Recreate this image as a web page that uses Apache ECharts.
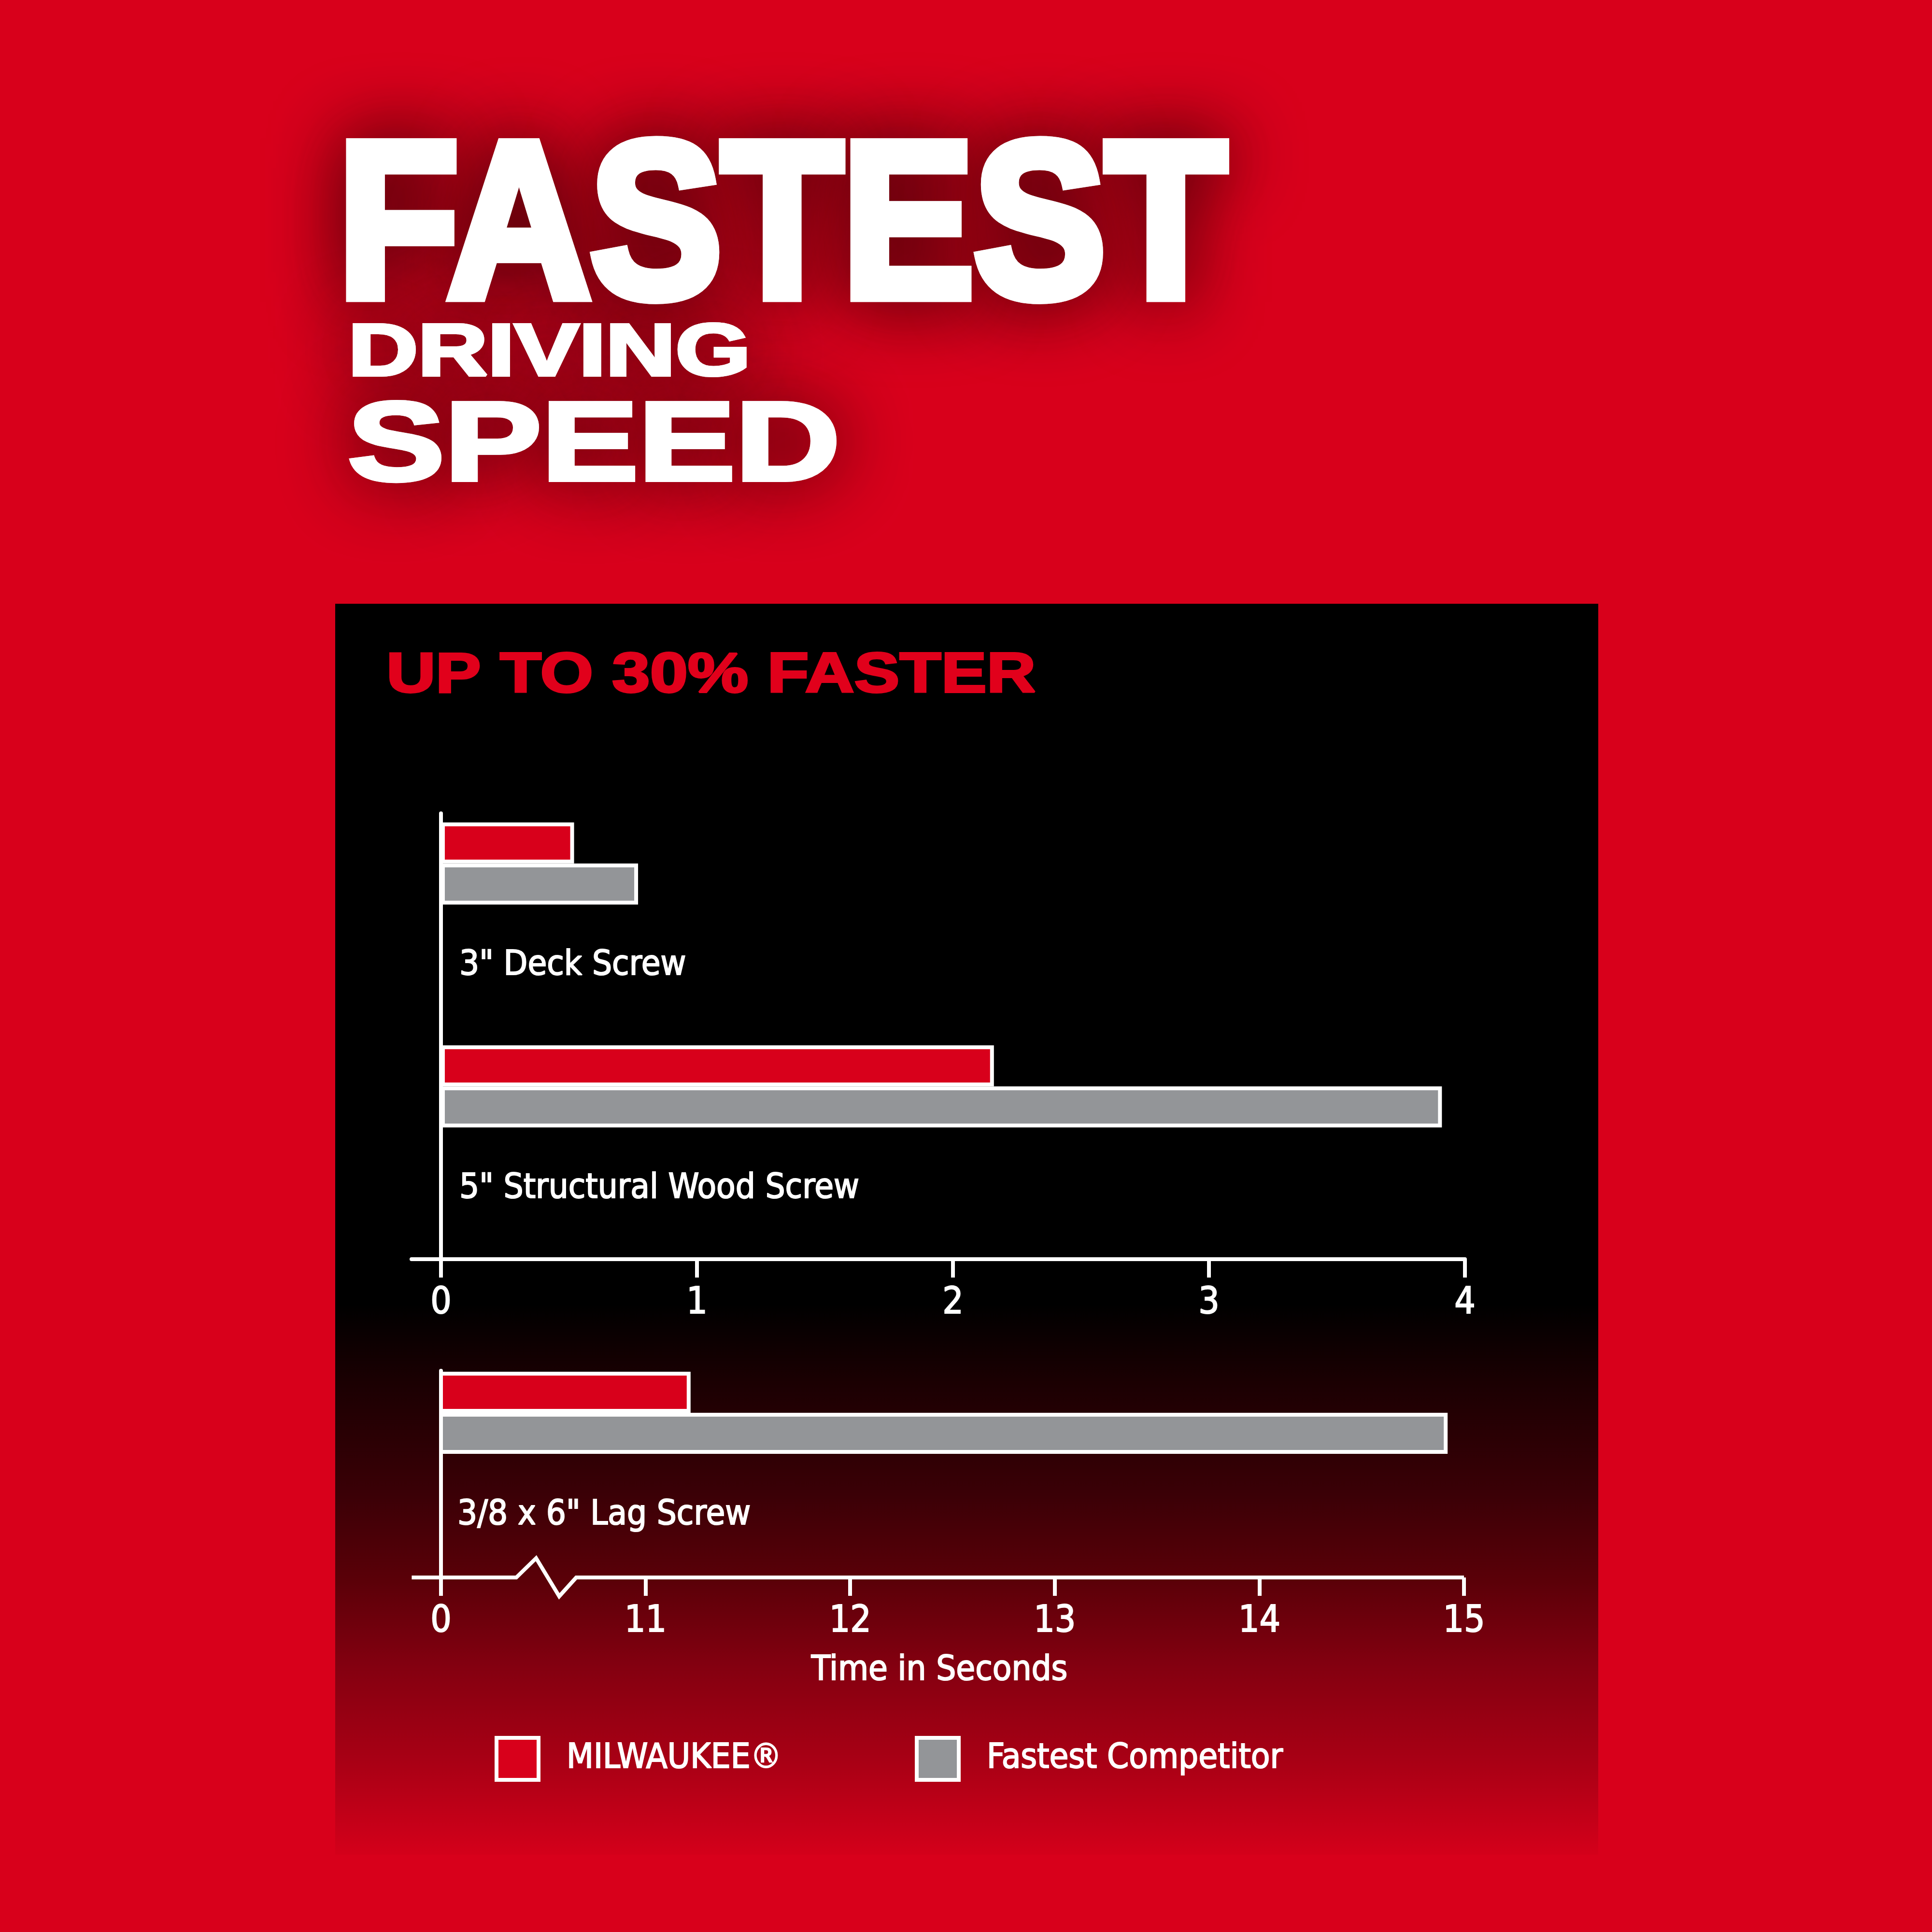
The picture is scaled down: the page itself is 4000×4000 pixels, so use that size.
<!DOCTYPE html>
<html>
<head>
<meta charset="utf-8">
<script src="https://cdn.jsdelivr.net/npm/echarts@6/dist/echarts.min.js"></script>
<style>
html,body{margin:0;padding:0;background:#d8001b;}
#chart{width:4000px;height:4000px;}
</style>
</head>
<body>
<div id="chart"></div>
<script>
// ---- data ----
const topCategories = ['3" Deck Screw', '5" Structural Wood Screw'];
const milwaukeeTop = [0.52, 2.16];
const competitorTop = [0.77, 3.91];
const topTicks = [0, 1, 2, 3, 4];

const lagCategories = ['3/8 x 6" Lag Screw'];
const milwaukeeLag = [11.22];
const competitorLag = [14.92];
const lagTicks = [10, 11, 12, 13, 14, 15];
const lagTickLabels = ['0', '11', '12', '13', '14', '15'];

const seriesNames = ['MILWAUKEE®', 'Fastest Competitor'];
const titleLines = ['FASTEST', 'DRIVING', 'SPEED'];
const subtitle = 'UP TO 30% FASTER';
const axisName = 'Time in Seconds';

// ---- style ----
const RED = '#d8001b';
const GRAY = '#939598';
const WHITE = '#ffffff';
const F = "'Liberation Sans Narrow', 'Arial Narrow', 'DejaVu Sans Condensed', sans-serif";
const TITLE_F = "'Liberation Sans', Arial, sans-serif";
const TXT = 72;

const chart = echarts.init(document.getElementById('chart'), null, {renderer: 'canvas', width: 4000, height: 4000, devicePixelRatio: 1});

const G2_BOTTOM = 3266;

const barStyle = (c) => ({color: c, borderColor: WHITE, borderWidth: 8});
const catLabel = {
  show: true, formatter: '{b}', position: [38, '100%'], offset: [0, 127],
  align: 'left', verticalAlign: 'middle', color: WHITE, fontSize: TXT, fontFamily: F,
  textBorderColor: WHITE, textBorderWidth: 2
};
const axisTickStyle = {show: true, length: 38, lineStyle: {color: WHITE, width: 8}};
const legendText = {color: WHITE, fontSize: TXT, fontFamily: F, padding: [0, 0, 0, 53], textBorderColor: WHITE, textBorderWidth: 2};

const option = {
  backgroundColor: RED,
  animation: false,
  grid: [
    {left: 852, right: 967, top: 1684, bottom: 4000 - 2607, containLabel: false},
    {left: 913, right: 969, top: 2838, bottom: 4000 - G2_BOTTOM, containLabel: false}
  ],
  legend: [
    {data: [seriesNames[0]], left: 1024, top: 3594, padding: 0, icon: 'rect', itemWidth: 87, itemHeight: 87,
     selectedMode: false, itemStyle: {borderColor: WHITE, borderWidth: 8}, textStyle: legendText},
    {data: [seriesNames[1]], left: 1894, top: 3594, padding: 0, icon: 'rect', itemWidth: 87, itemHeight: 87,
     selectedMode: false, itemStyle: {borderColor: WHITE, borderWidth: 8}, textStyle: legendText}
  ],
  xAxis: [
    {gridIndex: 0, type: 'value', min: -0.115, max: 4,
     axisLine: {show: true, onZero: false, lineStyle: {color: WHITE, width: 8}},
     axisTick: Object.assign({customValues: topTicks}, axisTickStyle),
     axisLabel: {customValues: topTicks, color: WHITE, fontSize: 76, fontFamily: F, margin: 54,
       textBorderColor: WHITE, textBorderWidth: 2},
     splitLine: {show: false}},
    {gridIndex: 1, type: 'value', min: 10, max: 15, interval: 1,
     axisLine: {show: false},
     axisTick: axisTickStyle,
     axisLabel: {color: WHITE, fontSize: 76, fontFamily: F, margin: 54,
       textBorderColor: WHITE, textBorderWidth: 2,
       formatter: (v) => lagTickLabels[lagTicks.indexOf(v)]},
     splitLine: {show: false},
     name: axisName, nameLocation: 'middle', nameGap: 157,
     nameTextStyle: {color: WHITE, fontSize: TXT, fontFamily: F, padding: [0, 54, 0, 0],
       textBorderColor: WHITE, textBorderWidth: 2}}
  ],
  yAxis: [
    {gridIndex: 0, type: 'category', data: topCategories, inverse: true,
     axisLine: {show: true, onZero: true, lineStyle: {color: WHITE, width: 8}},
     axisTick: {show: false}, axisLabel: {show: false}, splitLine: {show: false}},
    {gridIndex: 1, type: 'category', data: lagCategories, inverse: true,
     axisLine: {show: true, onZero: false, lineStyle: {color: WHITE, width: 8}},
     axisTick: {show: false}, axisLabel: {show: false}, splitLine: {show: false}}
  ],
  series: [
    {type: 'bar', name: seriesNames[0], xAxisIndex: 0, yAxisIndex: 0, data: milwaukeeTop,
     barWidth: 85, barGap: '0%', clip: true, itemStyle: barStyle(RED), z: 3},
    {type: 'bar', name: seriesNames[1], xAxisIndex: 0, yAxisIndex: 0, data: competitorTop,
     barWidth: 85, barGap: '0%', clip: true, itemStyle: barStyle(GRAY), label: catLabel, z: 3},
    {type: 'bar', name: 'spacer', xAxisIndex: 0, yAxisIndex: 0, data: [null, null],
     barWidth: 254, barGap: '0%', silent: true, itemStyle: {color: 'rgba(0,0,0,0)'}},
    {type: 'bar', name: seriesNames[0], xAxisIndex: 1, yAxisIndex: 1, data: milwaukeeLag,
     barWidth: 85, barGap: '0%', clip: true, itemStyle: barStyle(RED), z: 3},
    {type: 'bar', name: seriesNames[1], xAxisIndex: 1, yAxisIndex: 1, data: competitorLag,
     barWidth: 85, barGap: '0%', clip: true, itemStyle: barStyle(GRAY), label: catLabel, z: 3},
    {type: 'bar', name: 'spacer', xAxisIndex: 1, yAxisIndex: 1, data: [null],
     barWidth: 254, barGap: '0%', silent: true, itemStyle: {color: 'rgba(0,0,0,0)'}}
  ]
};
chart.setOption(option);

// broken axis line for the lag-screw chart, positioned through the axis scale
const px = (v) => chart.convertToPixel({xAxisIndex: 1}, v);
const y0 = G2_BOTTOM;
const zig = [
  [px(9.857), y0], [px(10.368), y0], [px(10.465), y0 - 40],
  [px(10.578), y0 + 39], [px(10.661), y0], [px(15), y0]
];

function titleText(txt, x, y, sx, size, lw, color, shadow) {
  const base = {text: txt, fill: color, stroke: color, lineWidth: lw,
    font: 'bold ' + size + 'px ' + TITLE_F, align: 'left', verticalAlign: 'middle'};
  const out = [];
  if (shadow) {
    out.push({type: 'text', z: 19, silent: true, x: x, y: y, scaleX: sx,
      style: Object.assign({}, base, {textShadowColor: 'rgba(60,0,5,0.95)', textShadowBlur: 150})});
  }
  out.push({type: 'text', z: 20, silent: true, x: x, y: y, scaleX: sx, style: base});
  return out;
}

chart.setOption({
  graphic: [
    {type: 'rect', z: -10, silent: true,
     shape: {x: 694, y: 1250, width: 2615, height: 2590},
     style: {fill: {type: 'linear', x: 0, y: 0, x2: 0, y2: 1, colorStops: [
       {offset: 0, color: '#000000'}, {offset: 0.56, color: '#000000'},
       {offset: 0.62, color: '#1a0002'}, {offset: 0.71, color: '#3a0006'},
       {offset: 0.78, color: '#5a0008'}, {offset: 0.85, color: '#840010'},
       {offset: 0.93, color: '#ab0015'}, {offset: 1, color: '#d4001a'}]}}},
    {type: 'polyline', z: 10, silent: true,
     shape: {points: zig},
     style: {stroke: WHITE, lineWidth: 8, fill: null, lineJoin: 'miter'}}
  ].concat(
    titleText(titleLines[0], 700, 487, 0.892, 458, 24, WHITE, true),
    titleText(titleLines[1], 721, 735, 1.315, 152, 6, WHITE, true),
    titleText(titleLines[2], 720, 930, 1.296, 232, 8, WHITE, true),
    titleText(subtitle, 800, 1401, 1.215, 116, 4, '#e1001b', false)
  )
});
</script>
</body>
</html>
